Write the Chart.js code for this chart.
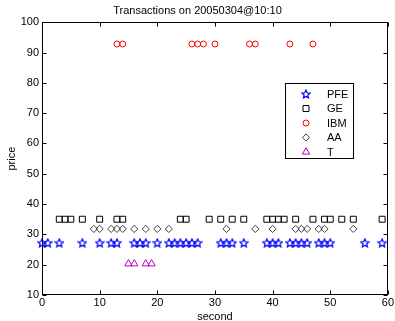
<!DOCTYPE html>
<html lang="en">
<head>
<meta charset="UTF-8">
<title>Transactions</title>
<style>
  body { margin: 0; background: #fff; }
  #wrap { width: 395px; height: 321px; }
</style>
</head>
<body>
<div id="wrap"><canvas id="myChart" width="395" height="321"></canvas></div>
<script src="https://cdn.jsdelivr.net/npm/chart.js"></script>
<script>
// trade times (second) and prices per ticker
var pfeSec = [0, 1, 3, 7, 10, 12, 13, 16, 17, 18, 20, 22, 23, 24, 25, 26, 27, 31, 32, 33, 35, 39, 40, 41, 43, 44, 45, 46, 48, 49, 50, 56, 59];
var pfePrice = [27.2, 27.2, 27.2, 27.2, 27.2, 27.2, 27.2, 27.2, 27.2, 27.2, 27.2, 27.2, 27.2, 27.2, 27.2, 27.2, 27.2, 27.2, 27.2, 27.2, 27.2, 27.2, 27.2, 27.2, 27.2, 27.2, 27.2, 27.2, 27.2, 27.2, 27.2, 27.2, 27.2];
var geSec = [3, 4, 5, 7, 10, 13, 14, 24, 25, 29, 31, 33, 35, 39, 40, 41, 42, 44, 47, 49, 50, 52, 54, 59];
var gePrice = [35, 35, 35, 35, 35, 35, 35, 35, 35, 35, 35, 35, 35, 35, 35, 35, 35, 35, 35, 35, 35, 35, 35, 35];
var ibmSec = [13, 14, 26, 27, 28, 30, 36, 37, 43, 47];
var ibmPrice = [92.8, 92.8, 92.8, 92.8, 92.8, 92.8, 92.8, 92.8, 92.8, 92.8];
var aaSec = [9, 10, 12, 13, 14, 16, 18, 20, 22, 32, 37, 40, 44, 45, 46, 48, 49, 54];
var aaPrice = [31.8, 31.8, 31.8, 31.8, 31.8, 31.8, 31.8, 31.8, 31.8, 31.8, 31.8, 31.8, 31.8, 31.8, 31.8, 31.8, 31.8, 31.8];
var tSec = [15, 16, 18, 19];
var tPrice = [20.3, 20.3, 20.3, 20.3];

var xTicks = [0, 10, 20, 30, 40, 50, 60];
var yTicks = [10, 20, 30, 40, 50, 60, 70, 80, 90, 100];

var FONT = '"Liberation Sans", Arial, sans-serif';

function pts(xs, ys) {
    var out = [];
    for (var i = 0; i < xs.length; i++) out.push({ x: xs[i], y: ys[i] });
    return out;
}

// matlab style pentagram, outlined
function makeStar(color) {
    var c = document.createElement('canvas');
    c.width = 10; c.height = 10;
    var g = c.getContext('2d');
    g.strokeStyle = color;
    g.lineWidth = 1.2;
    g.beginPath();
    for (var i = 0; i < 10; i++) {
        var r = i % 2 === 0 ? 4.3 : 2.0;
        var a = -Math.PI / 2 + i * Math.PI / 5;
        var px = 5 + r * Math.cos(a), py = 5.4 + r * Math.sin(a);
        if (i === 0) g.moveTo(px, py); else g.lineTo(px, py);
    }
    g.closePath();
    g.stroke();
    return c;
}
var starImg = makeStar('#0000ff');

// box, inward ticks and the legend
var boxPlugin = {
    id: 'box',
    afterDraw: function (chart) {
        var ctx = chart.ctx, a = chart.chartArea;
        var xs = chart.scales.x, ys = chart.scales.y;
        var L = Math.round(a.left) + 0.5, R = Math.round(a.right) - 0.5;
        var T = Math.round(a.top) + 0.5, B = Math.round(a.bottom) - 0.5;
        ctx.save();
        ctx.strokeStyle = '#000';
        ctx.lineWidth = 1;
        ctx.strokeRect(L, T, R - L, B - T);
        ctx.beginPath();
        xTicks.forEach(function (v) {
            var px = Math.round(xs.getPixelForValue(v)) + 0.5;
            ctx.moveTo(px, B); ctx.lineTo(px, B - 4);
            ctx.moveTo(px, T); ctx.lineTo(px, T + 4);
        });
        yTicks.forEach(function (v) {
            var py = Math.round(ys.getPixelForValue(v)) + 0.5;
            ctx.moveTo(L, py); ctx.lineTo(L + 4, py);
            ctx.moveTo(R, py); ctx.lineTo(R - 4, py);
        });
        ctx.stroke();

        // legend
        var lx = 285.5, ly = 83.5, lw = 68, lh = 75;
        ctx.fillStyle = '#fff';
        ctx.fillRect(lx, ly, lw, lh);
        ctx.strokeRect(lx, ly, lw, lh);
        ctx.font = '11px ' + FONT;
        ctx.textBaseline = 'middle';
        chart.data.datasets.forEach(function (ds, i) {
            var cy = 94 + i * 14.5;
            ctx.strokeStyle = ds.borderColor;
            ctx.fillStyle = 'rgba(0,0,0,0)';
            ctx.lineWidth = 1;
            if (ds.pointStyle === starImg) {
                ctx.drawImage(starImg, 306 - 5, cy - 5);
            } else {
                Chart.helpers.drawPoint(ctx, { pointStyle: ds.pointStyle, radius: ds.pointRadius, rotation: 0, borderWidth: 1 }, 306, cy);
            }
            ctx.fillStyle = '#000';
            ctx.fillText(ds.label, 327, cy + 0.5);
        });
        ctx.restore();
    }
};

var common = { showLine: false, clip: false, pointBorderWidth: 1, backgroundColor: 'rgba(0,0,0,0)' };

var chrt = document.getElementById('myChart').getContext('2d');
var chartId = new Chart(chrt, {
    type: 'scatter',
    data: {
        datasets: [
            Object.assign({ label: 'PFE', data: pts(pfeSec, pfePrice), pointStyle: starImg, pointRadius: 4, borderColor: '#0000ff' }, common),
            Object.assign({ label: 'GE', data: pts(geSec, gePrice), pointStyle: 'rect', pointRadius: 4.2, borderColor: '#000000' }, common),
            Object.assign({ label: 'IBM', data: pts(ibmSec, ibmPrice), pointStyle: 'circle', pointRadius: 3, borderColor: '#ff0000' }, common),
            Object.assign({ label: 'AA', data: pts(aaSec, aaPrice), pointStyle: 'rectRot', pointRadius: 3.6, borderColor: '#404040' }, common),
            Object.assign({ label: 'T', data: pts(tSec, tPrice), pointStyle: 'triangle', pointRadius: 4.2, borderColor: '#c000c0' }, common)
        ]
    },
    options: {
        responsive: false,
        animation: false,
        layout: { padding: { left: 0, right: 0, top: 0, bottom: 0 } },
        plugins: {
            legend: { display: false },
            tooltip: { enabled: false },
            title: {
                display: true,
                text: 'Transactions on 20050304@10:10',
                color: '#000',
                font: { family: FONT, size: 11, weight: 'normal' },
                padding: { top: 4, bottom: 5 }
            }
        },
        scales: {
            x: {
                type: 'linear', min: 0, max: 60,
                afterBuildTicks: function (s) { s.ticks = xTicks.map(function (v) { return { value: v }; }); },
                afterFit: function (s) { s.height = 26; },
                grid: { display: false, drawTicks: false },
                border: { display: false },
                ticks: { color: '#000', padding: 1, maxRotation: 0, font: { family: FONT, size: 11 } },
                title: { display: true, text: 'second', color: '#000', padding: { top: 0, bottom: -3 }, font: { family: FONT, size: 11 } }
            },
            y: {
                type: 'linear', min: 10, max: 100,
                afterBuildTicks: function (s) { s.ticks = yTicks.map(function (v) { return { value: v }; }); },
                afterFit: function (s) { s.width = 42; },
                grid: { display: false, drawTicks: false },
                border: { display: false },
                ticks: { color: '#000', padding: 3, font: { family: FONT, size: 11 } },
                title: { display: true, text: 'price', color: '#000', padding: { top: 5, bottom: 0 }, font: { family: FONT, size: 11 } }
            }
        }
    },
    plugins: [boxPlugin]
});
</script>
</body>
</html>
